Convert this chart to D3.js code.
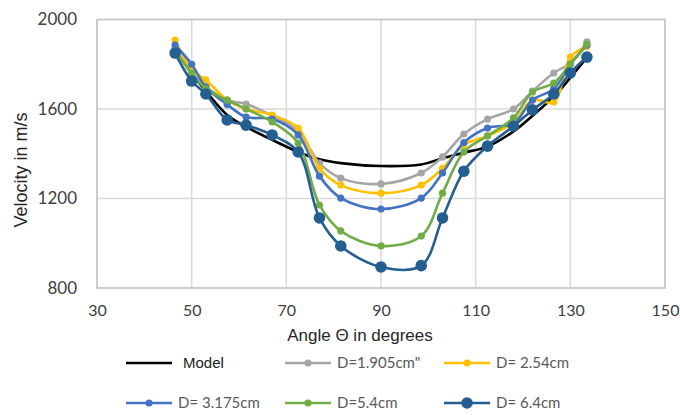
<!DOCTYPE html>
<html><head><meta charset="utf-8">
<script src="https://cdn.jsdelivr.net/npm/d3@7"></script>
<style>body{margin:0;background:#fff}svg{display:block}</style>
</head><body>
<svg id="chart" width="680" height="415"></svg>
<script>
const angles = [46.5, 50, 53, 57.5, 61.5, 67, 72.5, 77, 81.5, 90, 98.5, 103, 107.5, 112.5, 118, 122, 126.5, 130, 133.5];
const model  = [1864, 1760, 1680, 1573, 1520, 1462, 1408, 1375, 1358, 1345, 1352, 1380, 1405, 1432, 1500, 1570, 1655, 1740, 1830];
const d1905  = [1870, 1765, 1700, 1640, 1622, 1570, 1500, 1358, 1291, 1265, 1314, 1386, 1488, 1555, 1600, 1680, 1761, 1805, 1900];
const d254   = [1908, 1775, 1730, 1640, 1600, 1573, 1515, 1335, 1260, 1224, 1260, 1335, 1440, 1480, 1540, 1640, 1631, 1832, 1880];
const d3175  = [1886, 1800, 1698, 1620, 1564, 1555, 1484, 1300, 1202, 1153, 1202, 1314, 1450, 1515, 1535, 1640, 1690, 1800, 1885];
const d54    = [1860, 1760, 1690, 1640, 1600, 1542, 1448, 1171, 1055, 988, 1032, 1224, 1408, 1480, 1560, 1676, 1716, 1800, 1890];
const d64    = [1850, 1725, 1667, 1551, 1528, 1484, 1408, 1113, 988, 894, 900, 1113, 1322, 1434, 1523, 1596, 1667, 1761, 1832];
const seriesNames = ["Model", "D=1.905cm\"", "D= 2.54cm", "D= 3.175cm", "D=5.4cm", "D= 6.4cm"];
const xTicks = [30, 50, 70, 90, 110, 130, 150];
const yTicks = [800, 1200, 1600, 2000];

const series = [
  {name: seriesNames[0], values: model, color: "#000000", r: 0},
  {name: seriesNames[1], values: d1905, color: "#A5A5A5", r: 3.6},
  {name: seriesNames[2], values: d254,  color: "#FFC000", r: 3.6},
  {name: seriesNames[3], values: d3175, color: "#4472C4", r: 3.6},
  {name: seriesNames[4], values: d54,   color: "#70AD47", r: 3.6},
  {name: seriesNames[5], values: d64,   color: "#255E91", r: 5.8}
];

const svg = d3.select("#chart");
const L = 97, R = 665, T = 19.5, B = 288;
const x = d3.scaleLinear().domain([30, 150]).range([L, R]);
const y = d3.scaleLinear().domain([800, 2000]).range([B, T]);

// gridlines
const g = svg.append("g");
g.selectAll(".vg").data(xTicks).join("line")
  .attr("x1", d => x(d)).attr("x2", d => x(d)).attr("y1", T).attr("y2", B)
  .attr("stroke", "#D9D9D9").attr("stroke-width", 1.5);
g.selectAll(".hg").data(yTicks).join("line")
  .attr("x1", L).attr("x2", R).attr("y1", d => y(d)).attr("y2", d => y(d))
  .attr("stroke", "#D9D9D9").attr("stroke-width", 1.5);
g.append("rect").attr("x", L).attr("y", T).attr("width", R - L).attr("height", B - T)
  .attr("fill", "none").attr("stroke", "#C4C4C4").attr("stroke-width", 1.5);

// axes (labels only)
const xAxis = d3.axisBottom(x).tickValues(xTicks).tickFormat(d3.format("d")).tickSize(0).tickPadding(0);
const xa = svg.append("g").attr("transform", `translate(0,${B})`).call(xAxis);
xa.select(".domain").remove();
xa.selectAll("text").attr("dy", null).attr("y", 28)
  .attr("font-family", "Lato, sans-serif").attr("font-size", 16).attr("fill", "#404040");

const yAxis = d3.axisLeft(y).tickValues(yTicks).tickFormat(d3.format("d")).tickSize(0).tickPadding(20);
const ya = svg.append("g").attr("transform", `translate(${L},0)`).call(yAxis);
ya.select(".domain").remove();
ya.selectAll("text").attr("font-family", "Lato, sans-serif").attr("font-size", 17).attr("fill", "#404040");

// axis titles
svg.append("text").attr("x", 360).attr("y", 341).attr("text-anchor", "middle")
  .attr("font-family", "Liberation Sans, Arial, sans-serif").attr("font-size", 17).attr("fill", "#262626")
  .text("Angle Θ in degrees");
svg.append("text").attr("transform", "translate(27,170) rotate(-90)").attr("text-anchor", "middle")
  .attr("font-family", "Liberation Sans, Arial, sans-serif").attr("font-size", 18).attr("fill", "#262626")
  .text("Velocity in m/s");

// lines
const line = d3.line().x(d => x(d[0])).y(d => y(d[1])).curve(d3.curveCatmullRom.alpha(0.5));
series.forEach(s => {
  const pts = angles.map((a, i) => [a, s.values[i]]);
  svg.append("path").datum(pts).attr("d", line).attr("fill", "none")
    .attr("stroke", s.color).attr("stroke-width", 2.6).attr("stroke-linejoin", "round");
  if (s.r > 0) {
    svg.append("g").selectAll("circle").data(pts).join("circle")
      .attr("cx", d => x(d[0])).attr("cy", d => y(d[1])).attr("r", s.r).attr("fill", s.color);
  }
});

// legend
const legPos = [[126, 363], [285, 363], [444, 363], [126, 403], [285, 403], [444, 403]];
series.forEach((s, i) => {
  const [lx, ly] = legPos[i];
  const lg = svg.append("g");
  lg.append("line").attr("x1", lx).attr("x2", lx + 46).attr("y1", ly).attr("y2", ly)
    .attr("stroke", s.color).attr("stroke-width", 2.6);
  if (s.r > 0) lg.append("circle").attr("cx", lx + 23).attr("cy", ly).attr("r", s.r).attr("fill", s.color);
  const isModel = i === 0;
  lg.append("text").attr("x", lx + (isModel ? 57 : 52)).attr("y", ly).attr("dy", "0.35em")
    .attr("font-family", isModel ? "Liberation Sans, Arial, sans-serif" : "Lato, sans-serif")
    .attr("font-size", 15).attr("fill", isModel ? "#1a1a1a" : "#595959")
    .text(s.name);
});
</script>
</body></html>
